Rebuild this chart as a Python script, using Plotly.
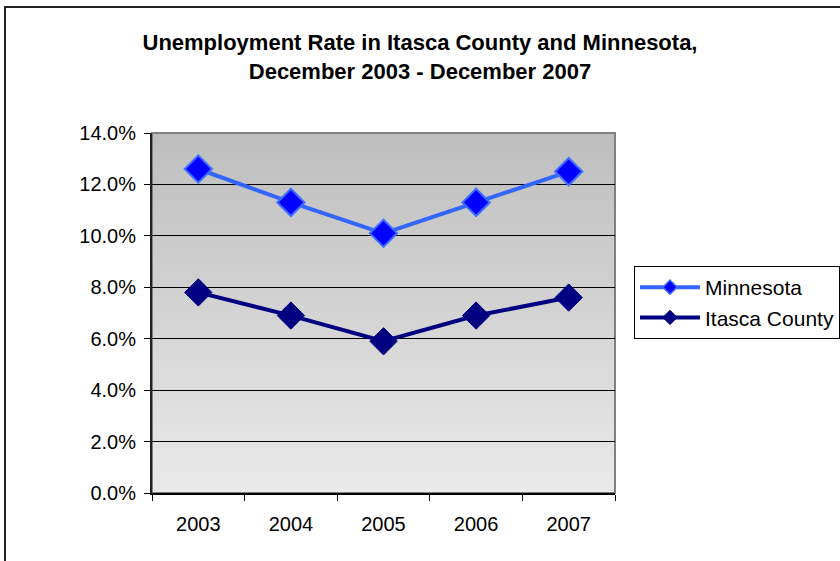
import plotly.graph_objects as go

years = ["2003", "2004", "2005", "2006", "2007"]
minnesota = [12.6, 11.3, 10.1, 11.3, 12.5]
itasca = [7.8, 6.9, 5.9, 6.9, 7.6]
y_ticks = [0, 2, 4, 6, 8, 10, 12, 14]
y_tick_text = [f"{v:.1f}%" for v in y_ticks]

FONT = "Liberation Sans, Arial, sans-serif"

MN_LINE, MN_FILL, MN_EDGE = "#3366ff", "#0000ff", "#3f6fff"
IT_COLOR = "#000080"

fig = go.Figure()
fig.add_trace(go.Scatter(
    x=years, y=minnesota, name="Minnesota", mode="lines+markers",
    line=dict(color=MN_LINE, width=4), showlegend=False,
    marker=dict(symbol="diamond", size=21, color=MN_FILL,
                line=dict(color=MN_EDGE, width=2)),
))
fig.add_trace(go.Scatter(
    x=years, y=itasca, name="Itasca County", mode="lines+markers",
    line=dict(color=IT_COLOR, width=4), showlegend=False,
    marker=dict(symbol="diamond", size=21, color=IT_COLOR,
                line=dict(color=IT_COLOR, width=1)),
))
# legend entries with small diamond keys
fig.add_trace(go.Scatter(
    x=[None], y=[None], name="Minnesota", mode="lines+markers",
    line=dict(color=MN_LINE, width=4),
    marker=dict(symbol="diamond", size=11, color=MN_FILL,
                line=dict(color=MN_EDGE, width=1.5)),
))
fig.add_trace(go.Scatter(
    x=[None], y=[None], name="Itasca County", mode="lines+markers",
    line=dict(color=IT_COLOR, width=4),
    marker=dict(symbol="diamond", size=11, color=IT_COLOR,
                line=dict(color=IT_COLOR, width=1)),
))

# vertical gray gradient behind the plot area (darker at top)
shapes = []
bands = 90
top_c, bot_c = 190, 233
for i in range(bands):
    t = i / (bands - 1)
    c = round(bot_c + (top_c - bot_c) * t)
    shapes.append(dict(
        type="rect", xref="paper", yref="paper", layer="below",
        x0=0, x1=1, y0=i / bands, y1=(i + 1) / bands + 0.002,
        fillcolor=f"rgb({c},{c},{c})", line=dict(width=0),
    ))
# plot-area frame
shapes.append(dict(type="rect", xref="paper", yref="paper", layer="below",
                   x0=0, x1=1, y0=0, y1=1,
                   line=dict(color="#808080", width=2), fillcolor="rgba(0,0,0,0)"))
# outer chart frame
shapes.append(dict(type="rect", xref="paper", yref="paper",
                   x0=(5 - 152) / 463, x1=(846 - 152) / 463,
                   y0=(493 - 568) / 360, y1=(493 - 7) / 360,
                   line=dict(color="#222222", width=2), fillcolor="rgba(0,0,0,0)"))

fig.update_layout(
    width=840, height=561,
    margin=dict(l=152, r=225, t=133, b=68, autoexpand=False),
    paper_bgcolor="white", plot_bgcolor="rgba(0,0,0,0)",
    font=dict(family=FONT, size=20, color="black"),
    title=dict(
        text="<b>Unemployment Rate in Itasca County and Minnesota,<br>December 2003 - December 2007</b>",
        x=0.5, xref="container", xanchor="center",
        y=1 - 50 / 561, yref="container", yanchor="middle",
        font=dict(family=FONT, size=22, color="black"),
    ),
    shapes=shapes,
    showlegend=True,
    legend=dict(
        x=(634 - 152) / 463, y=(493 - 266) / 360, xanchor="left", yanchor="top",
        bgcolor="white", bordercolor="black", borderwidth=1,
        font=dict(family=FONT, size=21, color="black"),
        tracegroupgap=0, itemwidth=60,
    ),
    xaxis=dict(
        type="category", tickson="boundaries", ticks="outside", ticklen=6,
        tickcolor="black", showline=True, linecolor="black", linewidth=2,
        showgrid=False, ticklabelstandoff=12, zeroline=False,
        range=[-0.5, 4.5],
    ),
    yaxis=dict(
        range=[0, 14], tickvals=y_ticks, ticktext=y_tick_text,
        ticks="outside", ticklen=6, tickcolor="black",
        showline=True, linecolor="#222222", linewidth=2,
        showgrid=True, gridcolor="black", gridwidth=1, zeroline=False,
        ticklabelstandoff=4,
    ),
)

fig.write_html("out.html")
